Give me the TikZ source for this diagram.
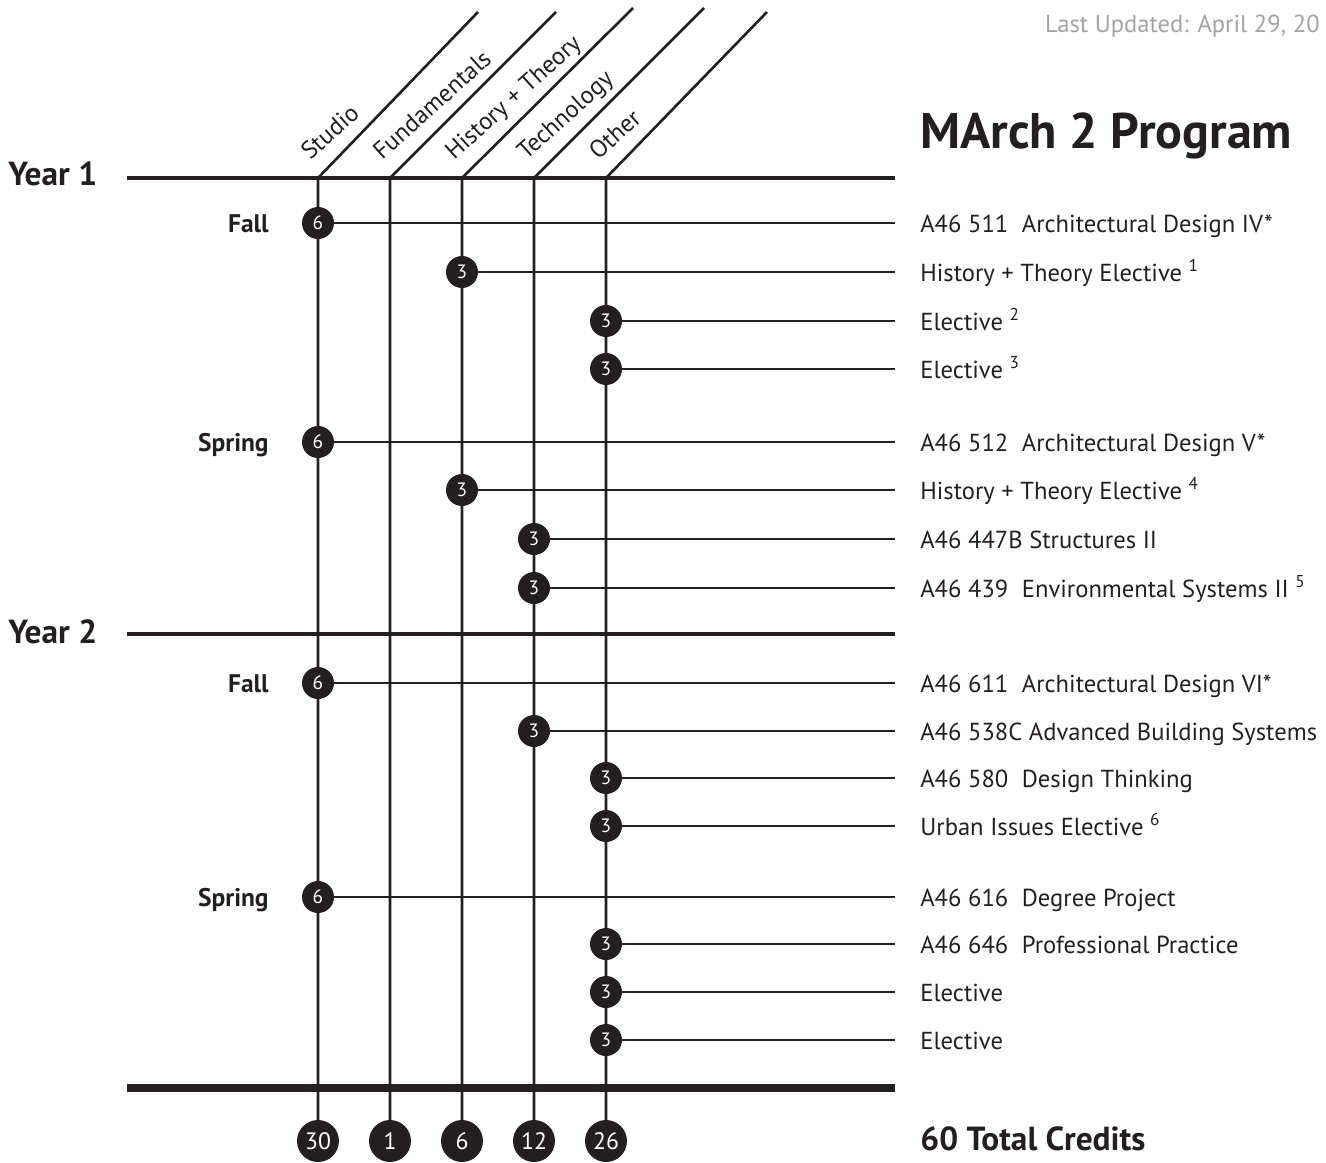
\documentclass[tikz,border=0pt]{standalone}
\usepackage{fontspec}
\usepackage{tikz}
\usepackage{xcolor}
\usetikzlibrary{positioning}
\usetikzlibrary{backgrounds}
\setmainfont{PT Sans}
\definecolor{Print Black}{HTML}{231F20}
\definecolor{Date Gray}{HTML}{A3A3A3}
\newcommand{\crscode}[1]{\makebox[57.8pt][l]{#1}}

\begin{document}
\begin{tikzpicture}[x=0.02cm, y=-0.02cm,
    credit/.style={circle, fill=Print Black, text=white, inner sep=0pt,
        minimum size=0.64cm, font=\fontsize{11}{11}\selectfont},
    total/.style={credit, minimum size=0.84cm, font=\fontsize{13.5}{14}\selectfont},
    course/.style={anchor=base west, inner sep=0pt, text=Print Black,
        font=\fontsize{14}{16}\selectfont},
    colhead/.style={anchor=base west, rotate=42, inner sep=0pt, text=Print Black,
        font=\fontsize{14}{16}\selectfont},
    term/.style={anchor=base east, inner sep=0pt, text=Print Black,
        font=\bfseries\fontsize{14.5}{16}\selectfont},
    year/.style={anchor=base west, inner sep=0pt, text=Print Black,
        font=\bfseries\fontsize{19}{21}\selectfont},
    colline/.style={draw=Print Black, line width=1.5pt},
    rowline/.style={draw=Print Black, line width=1.5pt},
    yearline/.style={draw=Print Black, line width=2.8pt},
    endline/.style={draw=Print Black, line width=4.5pt}
]
\useasboundingbox (0,0) rectangle (1326,1163);

% Columns: base on the Year 1 rule, slanted head, total at the bottom
\foreach \cname/\cx/\tx/\ty/\clabel/\ctotal in {
    studio/318/478/12/Studio/30,
    fund/390/556/12/Fundamentals/1,
    hist/462/633/8/History + Theory/6,
    tech/534/704/8/Technology/12,
    other/606/767/12/Other/26
} {
    \coordinate (base-\cname) at (\cx, 178);
    \coordinate (top-\cname) at (\tx, \ty);
    \node[colhead] (head-\cname) at (\cx-8, 161) {\clabel};
    \node[total] (tot-\cname) at (\cx, 1141) {\ctotal};
}

% Courses: credit dot on its column, rule out to the course name
\coordinate (rowend) at (895, 0);
\foreach \ry/\cname/\cr/\ctext [count=\i] in {
    223/studio/6/{\crscode{A46 511}Architectural Design IV*},
    272/hist/3/{History + Theory Elective \textsuperscript{1}},
    321/other/3/{Elective \textsuperscript{2}},
    369/other/3/{Elective \textsuperscript{3}},
    442/studio/6/{\crscode{A46 512}Architectural Design V*},
    490/hist/3/{History + Theory Elective \textsuperscript{4}},
    539/tech/3/{A46 447B Structures II},
    588/tech/3/{\crscode{A46 439}Environmental Systems II \textsuperscript{5}},
    683/studio/6/{\crscode{A46 611}Architectural Design VI*},
    731/tech/3/{A46 538C Advanced Building Systems},
    778/other/3/{\crscode{A46 580}Design Thinking},
    826/other/3/{Urban Issues Elective \textsuperscript{6}},
    897/studio/6/{\crscode{A46 616}Degree Project},
    944/other/3/{\crscode{A46 646}Professional Practice},
    992/other/3/{Elective},
    1040/other/3/{Elective}
} {
    \node[credit] (cr-\i) at (base-\cname |- 0,\ry) {\cr};
    \node[course] (crs-\i) at (920, \ry+9) {\ctext};
    \draw[rowline] (cr-\i) -- (cr-\i -| rowend);
}

% Years and terms
\node[year] (year-1) at (8, 185) {Year 1};
\node[year] (year-2) at (8, 643) {Year 2};
\node[term] (fall-1) at (269, 232) {Fall};
\node[term] (spring-1) at (269, 451) {Spring};
\node[term] (fall-2) at (269, 692) {Fall};
\node[term] (spring-2) at (269, 906) {Spring};

\coordinate (rule-1) at (127, 178);
\coordinate (rule-2) at (127, 634);
\coordinate (rule-end) at (127, 1088);
\draw[yearline] (rule-1) -- (rule-1 -| rowend);
\draw[yearline] (rule-2) -- (rule-2 -| rowend);
\draw[endline] (rule-end) -- (rule-end -| rowend);

% Title, date and total
\node[anchor=base west, inner sep=0pt, text=Print Black,
    font=\bfseries\fontsize{28.5}{30}\selectfont] (title) at (920, 148) {MArch 2 Program};
\node[anchor=base east, inner sep=0pt, text=Date Gray,
    font=\fontsize{14}{16}\selectfont] (updated) at (1320, 32) {Last Updated: April 29, 20};
\node[anchor=base west, inner sep=0pt, text=Print Black,
    font=\bfseries\fontsize{19}{21}\selectfont] (credits) at (920, 1150) {60 Total Credits};

\begin{scope}[on background layer]
    \foreach \cname in {studio,fund,hist,tech,other}
        \draw[colline] (top-\cname) -- (base-\cname) -- (tot-\cname.center);
\end{scope}
\end{tikzpicture}
\end{document}
